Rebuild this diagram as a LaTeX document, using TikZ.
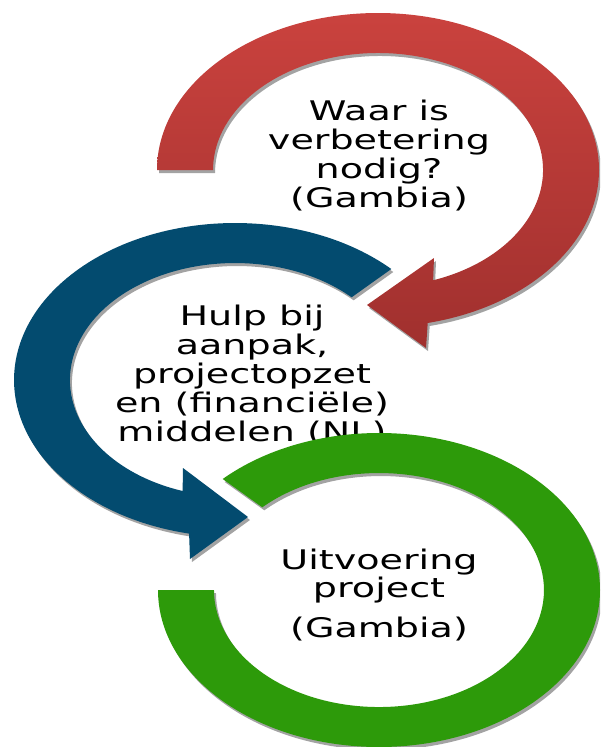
\documentclass[tikz,border=0pt]{standalone}
\usepackage{fontspec}
\setmainfont{DejaVu Sans}
\definecolor{redtop}{HTML}{CA423E}
\definecolor{redbot}{HTML}{A0302E}
\definecolor{blueC}{HTML}{034B6F}
\definecolor{greenC}{HTML}{2D9A0A}
\definecolor{shadowC}{HTML}{A3A3A3}
\newcommand\RedShape{(157,170) arc[start angle=180,end angle=437,x radius=221,y radius=157] -- (426,348) -- (367,305) -- (434,258) -- (433.1,280.3) arc[start angle=430.5,end angle=180,x radius=165,y radius=117] -- cycle}
\newcommand\BlueShape{(391.3,269) arc[start angle=315,end angle=102,x radius=221,y radius=157] -- (190,559) -- (248,517) -- (183,468) -- (182.6,491) arc[start angle=108.5,end angle=315,x radius=165,y radius=117] -- cycle}
\newcommand\GreenShape{(158,590) arc[start angle=180,end angle=-135,x radius=221,y radius=157] -- (262.3,507.3) arc[start angle=-135,end angle=180,x radius=165,y radius=117] -- cycle}
\begin{document}
\begin{tikzpicture}[x=1pt,y=-1pt,
  txt/.style={font=\fontsize{27}{29}\selectfont, xscale=1.41, anchor=base, inner sep=0pt},
  shadowfill/.style={fill=shadowC, shift={(2,3)}}]
\useasboundingbox (0,0) rectangle (600,747);
\clip (0,0) rectangle (600,747);
% red ring
\fill[shadowfill] \RedShape;
\shade[top color=redtop, bottom color=redbot] \RedShape;
\node[txt] (r1) at (379,120) {Waar is};
\node[txt] (r2) at (379,149) {verbetering};
\node[txt] (r3) at (379,178) {nodig?};
\node[txt] (r4) at (379,207) {(Gambia)};
% blue ring
\fill[shadowfill] \BlueShape;
\fill[blueC] \BlueShape;
\node[txt] (b1) at (252,325) {Hulp bij};
\node[txt] (b2) at (252,354) {aanpak,};
\node[txt] (b3) at (252,383) {projectopzet};
\node[txt] (b4) at (252,412) {en (financiële)};
\node[txt] (b5) at (252,441) {middelen (NL)};
% green ring
\fill[shadowfill] \GreenShape;
\fill[greenC] \GreenShape;
\node[txt] (g1) at (379,569) {Uitvoering};
\node[txt] (g2) at (379,597) {project};
\node[txt] (g3) at (379,637) {(Gambia)};
\end{tikzpicture}
\end{document}
